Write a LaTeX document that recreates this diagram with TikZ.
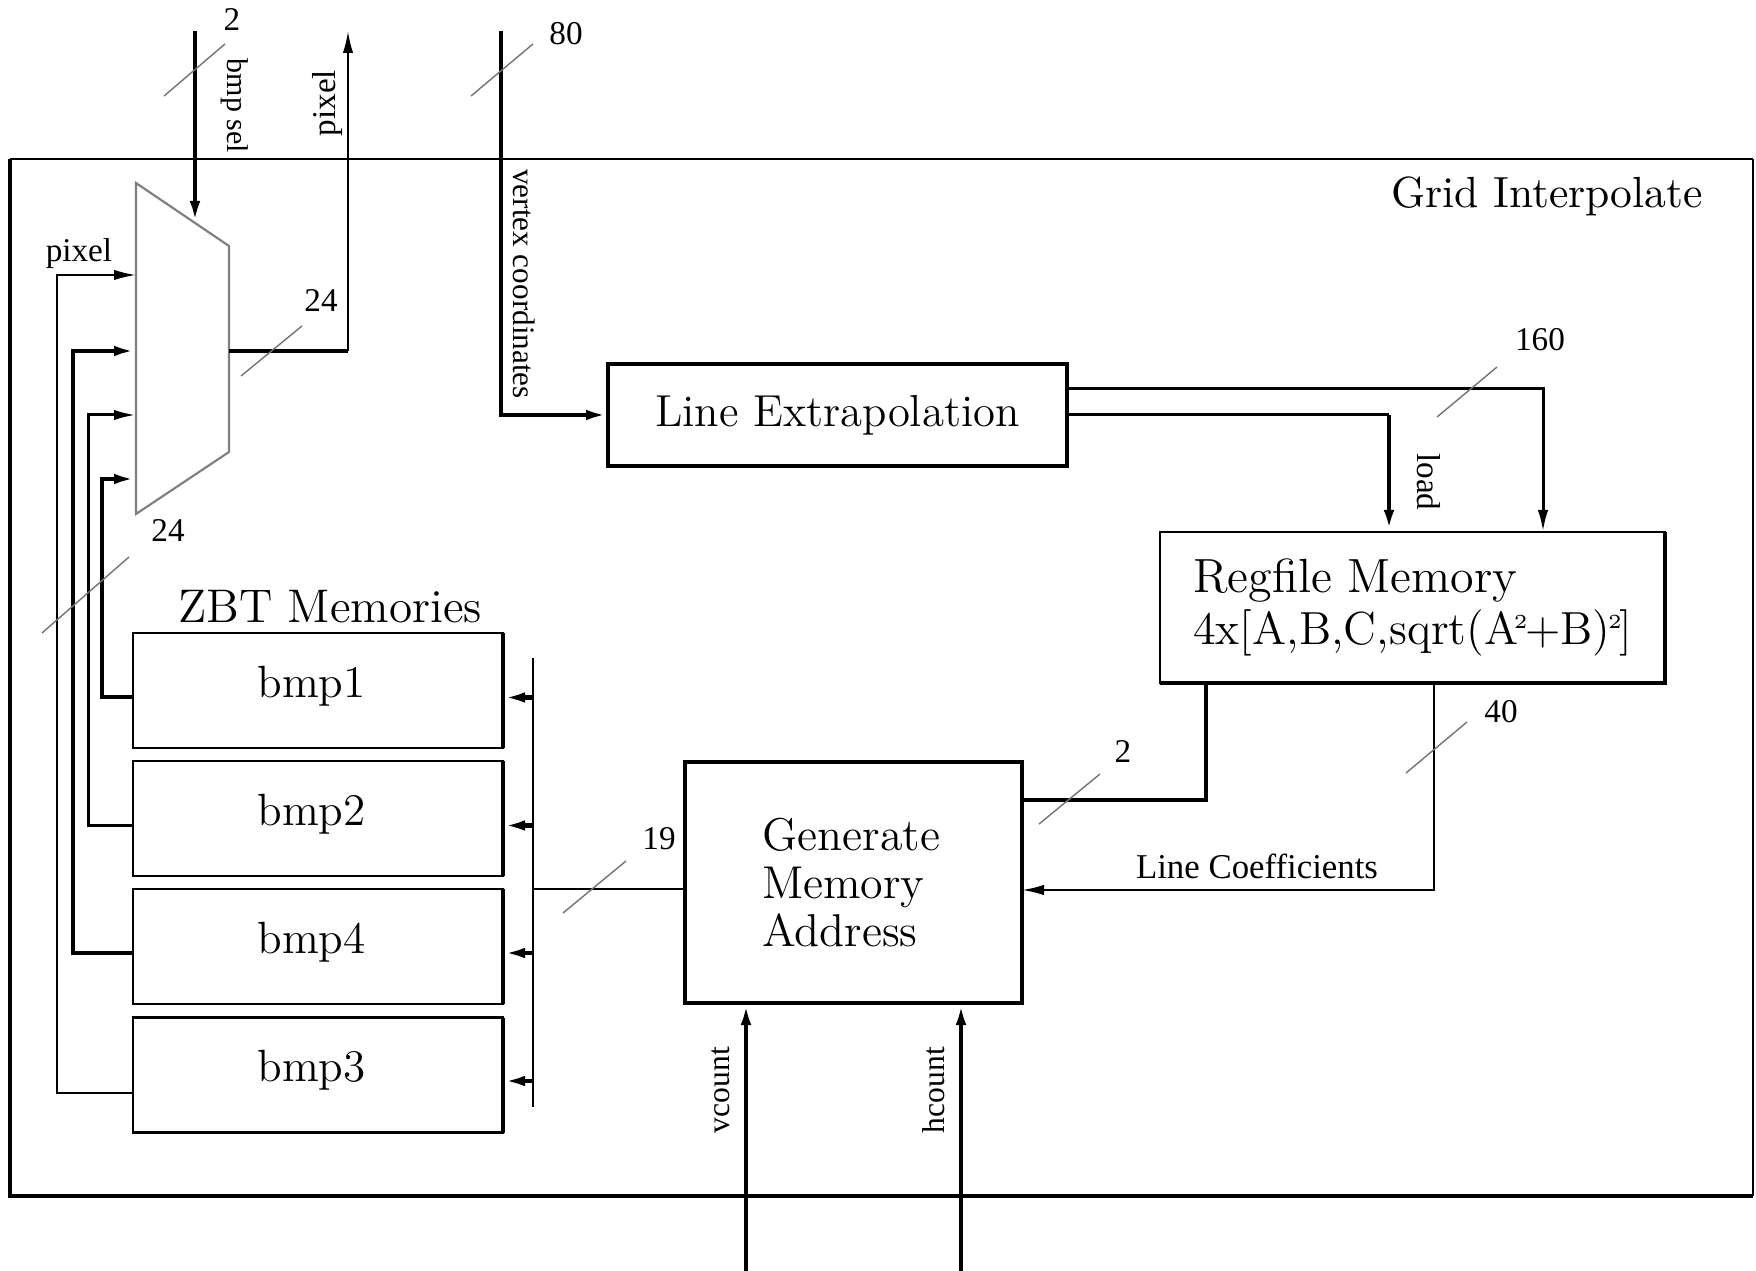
\documentclass[tikz,border=0pt]{standalone}
\usepackage{fontspec}
\newfontfamily\labfont{Liberation Serif}
\usetikzlibrary{arrows.meta,calc}
\newcommand{\supt}{\raisebox{0.8ex}{\fontsize{5}{5}\selectfont 2}}
\begin{document}
\begin{tikzpicture}[x=0.25pt,y=-0.25pt,
  lbl/.style={font=\labfont\fontsize{8.3}{10}\selectfont, inner sep=0pt},
  tick/.style={draw=black!55, line width=0.35pt},
  arr/.style={-{Latex[length=5.5pt,width=2.6pt]}},
  wthin/.style={line width=0.5pt},
  wmid/.style={line width=0.75pt},
  wthick/.style={line width=1.05pt},
  blk/.style={draw, line width=0.6pt, inner sep=0pt, outer sep=0pt},
  bmpbox/.style={blk, minimum width=92.5pt, minimum height=28.75pt},
  bmptext/.style={font=\fontsize{11.3}{13}\selectfont, xshift=-1.6pt, yshift=1.1pt}]
\useasboundingbox (0,0) rectangle (1756,1271);

% outer frame
\draw[line width=0.5pt] (10,159) -- (1753,159);
\draw[line width=0.6pt] (1753,159) -- (1753,1196);
\draw[line width=1.05pt] (10,159) -- (10,1196) -- (1753,1196);
\node[font=\fontsize{10.9}{12}\selectfont] (title) at (1547,196) {Grid Interpolate};

% blocks
\node[blk, line width=0.9pt, minimum width=114.75pt, minimum height=25.5pt, font=\fontsize{11.2}{13}\selectfont] (le) at (837.5,415) {Line Extrapolation};
\node[blk, minimum width=126.25pt, minimum height=37.75pt, align=left, font=\fontsize{12}{13}\selectfont] (rf) at (1412.5,607.5) {Regfile Memory\\\fontsize{11.6}{13}\selectfont 4x[A,B,C,sqrt(A\kern-1.1pt\supt\kern-0.6pt+B)\kern-0.6pt\supt\kern-0.6pt]};
\draw[line width=1.1pt] (rf.north east) -- (rf.south east) -- (rf.south west);
\node[blk, line width=1pt, minimum width=84.25pt, minimum height=60.25pt,
      label={[align=left, font=\fontsize{11.5}{11.9}\selectfont, xshift=-0.6pt]center:Generate\\Memory\\Address}] (gma) at (853.5,882.5) {};

\node[font=\fontsize{11.8}{13}\selectfont] (zbt) at (330,607) {ZBT Memories};
\node[bmpbox, label={[bmptext]center:bmp1}] (bmp1) at (318,690.5) {};
\node[bmpbox, label={[bmptext]center:bmp2}] (bmp2) at (318,818.5) {};
\node[bmpbox, label={[bmptext]center:bmp4}] (bmp4) at (318,946.5) {};
\node[bmpbox, label={[bmptext]center:bmp3}] (bmp3) at (318,1075) {};
\foreach \b in {bmp1,bmp2,bmp4,bmp3}
  \draw[line width=1.1pt] (\b.north east) -- (\b.south east);

% mux
\coordinate (mtl) at (136,183);
\coordinate (mtr) at (229,246);
\coordinate (mbr) at (229,452);
\coordinate (mbl) at (136,514);
\draw[draw=black!50, line width=0.55pt] (mtl) -- (mtr) -- (mbr) -- (mbl) -- cycle;
\coordinate (in1) at (136,275);
\coordinate (in2) at (136,351);
\coordinate (in3) at (136,415);
\coordinate (in4) at (136,479);
\coordinate (msel) at (195,223);
\coordinate (mout) at (229,351);

% bmp -> mux
\draw[wthin,arr] ($(bmp3.west)+(0,18)$) -| (57,275) -- (in1);
\draw[wthick,arr] ($(bmp4.west)+(0,6.5)$) -| (73,351) -- (in2);
\draw[wmid,arr] ($(bmp2.west)+(0,7.5)$) -| (88,415) -- (in3);
\draw[wthick,arr] ($(bmp1.west)+(0,6.5)$) -| (102,479) -- (in4);
\node[lbl] (pixlab) at (79,254) {pixel};

% select and output
\coordinate (selsrc) at (195,31);
\draw[wthick,arr] (selsrc) -- (msel);
\coordinate (mcorner) at (348,351);
\coordinate (pixout) at (348,31);
\draw[wthick] (mout) -- (mcorner);
\draw[wthin,arr] (mcorner) -- (pixout);

% vertex coordinates
\coordinate (vsrc) at (501,31);
\draw[wthick,arr] (vsrc) |- (le.west);

% LE -> RF
\draw[wmid,arr] ($(le.east)+(0,-26)$) -| ($(rf.north)+(130.5,0)$);
\coordinate (lcorner) at (1389,415);
\draw[wmid] (le.east) -- (lcorner);
\draw[line width=1.2pt,arr] (lcorner) -- (lcorner |- rf.north);

% RF -> GMA
\draw[wthick] ($(rf.south west)+(46,0)$) |- ($(gma.east)+(0,-82.5)$);
\draw[wthin,arr] ($(rf.south west)+(274,0)$) |- ($(gma.east)+(0,7.5)$);
\node[lbl, font=\labfont\fontsize{8.7}{10}\selectfont] (lc) at (1257,866) {Line Coefficients};

% GMA -> bus -> bmps
\coordinate (bustop) at (533,658);
\coordinate (busbot) at (533,1107);
\draw[wthin] (bustop) -- (busbot);
\path ($(gma.west)+(0,6.5)$) coordinate (gw);
\draw[wthin] (gw) -- (gw -| bustop);
\path ($(bmp1.east)+(0,7)$) coordinate (b1r)
      ($(bmp2.east)+(0,7)$) coordinate (b2r)
      ($(bmp4.east)+(0,6.5)$) coordinate (b4r)
      ($(bmp3.east)+(0,6)$) coordinate (b3r);
\foreach \r in {b1r,b2r,b4r,b3r}
  \draw[wthick,arr] (\r -| bustop) -- (\r);

% vcount / hcount
\coordinate (vc) at (746,1271);
\coordinate (hc) at (961,1271);
\draw[wthick,arr] (vc) -- (vc |- gma.south);
\draw[wthick,arr] (hc) -- (hc |- gma.south);

% rotated labels
\node[lbl, font=\labfont\fontsize{7.5}{9}\selectfont, rotate=-90] (bmpsel) at (235,106) {bmp sel};
\node[lbl, rotate=90] (pixtop) at (328,103) {pixel};
\node[lbl, font=\labfont\fontsize{7.8}{9}\selectfont, rotate=-90] (vtx) at (524,284) {vertex coordinates};
\node[lbl, rotate=-90] (load) at (1429,482) {load};
\node[lbl, font=\labfont\fontsize{7.9}{9}\selectfont, rotate=90] (vcl) at (721,1090) {vcount};
\node[lbl, font=\labfont\fontsize{7.9}{9}\selectfont, rotate=90] (hcl) at (934,1090) {hcount};

% bus width labels and ticks
\node[lbl] (w2a) at (232,20) {2};
\draw[tick] (164,96) -- (225,44);
\node[lbl] (w80) at (566,34) {80};
\draw[tick] (471,96) -- (533,44);
\node[lbl] (w24a) at (321,301) {24};
\draw[tick] (241,376) -- (302,326);
\node[lbl] (w24b) at (168,531) {24};
\draw[tick] (42,633) -- (129,557);
\node[lbl] (w160) at (1540,340) {160};
\draw[tick] (1437,417) -- (1497,367);
\node[lbl] (w2b) at (1123,752) {2};
\draw[tick] (1039,824) -- (1100,774);
\node[lbl] (w40) at (1501,712) {40};
\draw[tick] (1406,773) -- (1467,722);
\node[lbl] (w19) at (659,839) {19};
\draw[tick] (563,913) -- (626,861);
\end{tikzpicture}
\end{document}
